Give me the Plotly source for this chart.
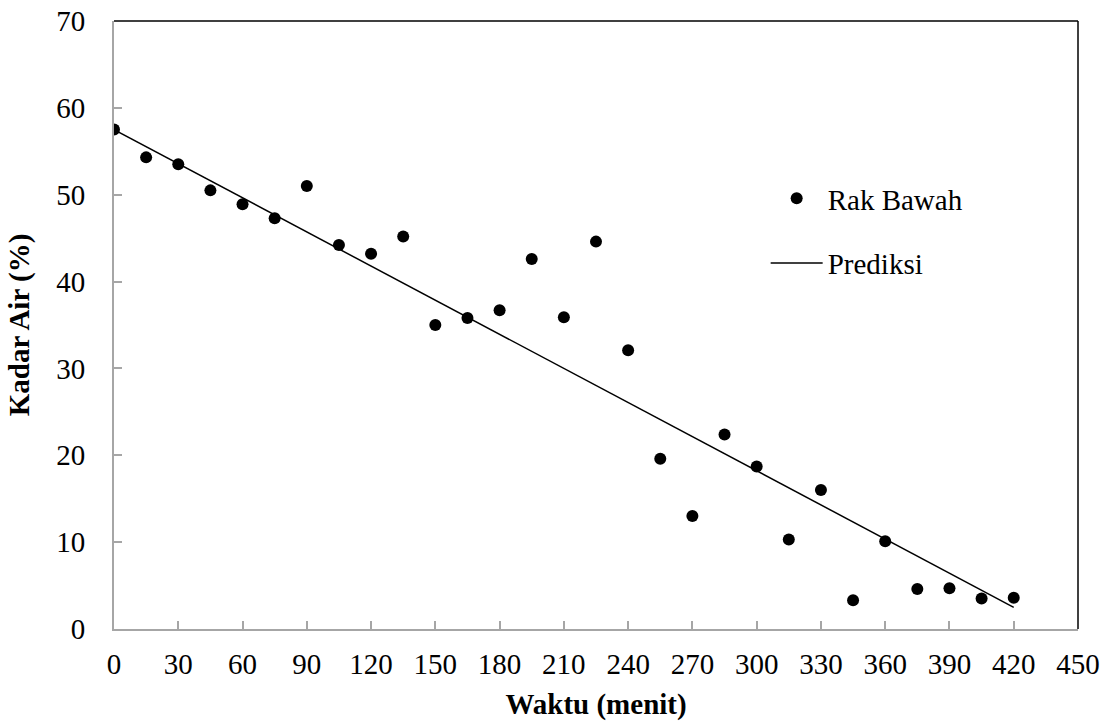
import plotly.graph_objects as go

waktu = [0, 15, 30, 45, 60, 75, 90, 105, 120, 135, 150, 165, 180, 195, 210,
         225, 240, 255, 270, 285, 300, 315, 330, 345, 360, 375, 390, 405, 420]
kadar_air = [57.5, 54.3, 53.5, 50.5, 48.9, 47.3, 51.0, 44.2, 43.2, 45.2, 35.0, 35.8,
             36.7, 42.6, 35.9, 44.6, 32.1, 19.6, 13.0, 22.4, 18.7, 10.3, 16.0, 3.3,
             10.1, 4.6, 4.7, 3.5, 3.6]
pred_x = [0, 420]
pred_y = [57.5, 2.5]

font_family = "Liberation Serif, Times New Roman, serif"

fig = go.Figure()
fig.add_trace(go.Scatter(x=waktu, y=kadar_air, mode="markers", name="Rak Bawah",
                         marker=dict(color="black", size=12), legendgroup="a"))
fig.add_trace(go.Scatter(x=pred_x, y=pred_y, mode="lines", name="Prediksi",
                         line=dict(color="black", width=1.5), legendgroup="b"))

fig.update_layout(
    width=1108, height=722,
    margin=dict(l=114, r=30, t=21, b=93, autoexpand=False),
    paper_bgcolor="white", plot_bgcolor="white",
    font=dict(family=font_family, size=29, color="black"),
    showlegend=True,
    legend=dict(x=0.676, y=0.75, xanchor="left", yanchor="top",
                bgcolor="rgba(0,0,0,0)", tracegroupgap=24,
                font=dict(size=29), itemwidth=52),
    xaxis=dict(range=[0, 450], tickmode="array", tickvals=list(range(0, 451, 30)),
               showgrid=False, zeroline=False, showline=True, linecolor="#a6a6a6",
               linewidth=2, ticks="inside", ticklen=8, tickcolor="#a6a6a6",
               tickwidth=2, ticklabelstandoff=8, automargin=False,
               tickfont=dict(size=29),
               title=dict(text="<b>Waktu (menit)</b>", font=dict(size=29), standoff=15)),
    yaxis=dict(range=[0, 70], tickmode="array", tickvals=list(range(0, 71, 10)),
               showgrid=False, zeroline=False, showline=True, linecolor="#a6a6a6",
               linewidth=2, ticks="inside", ticklen=8, tickcolor="#a6a6a6",
               tickwidth=2, ticklabelstandoff=21, automargin=False,
               tickfont=dict(size=29),
               title=dict(text="<b>Kadar Air (%)</b>", font=dict(size=29), standoff=18)),
)
fig.add_shape(type="line", xref="paper", yref="paper", x0=0, x1=1, y0=1, y1=1,
              line=dict(color="black", width=1.5))
fig.add_shape(type="line", xref="paper", yref="paper", x0=1, x1=1, y0=0, y1=1,
              line=dict(color="black", width=1.5))

fig.write_html("out.html", config={"displayModeBar": False},
               post_script="document.body.style.margin='0';")
